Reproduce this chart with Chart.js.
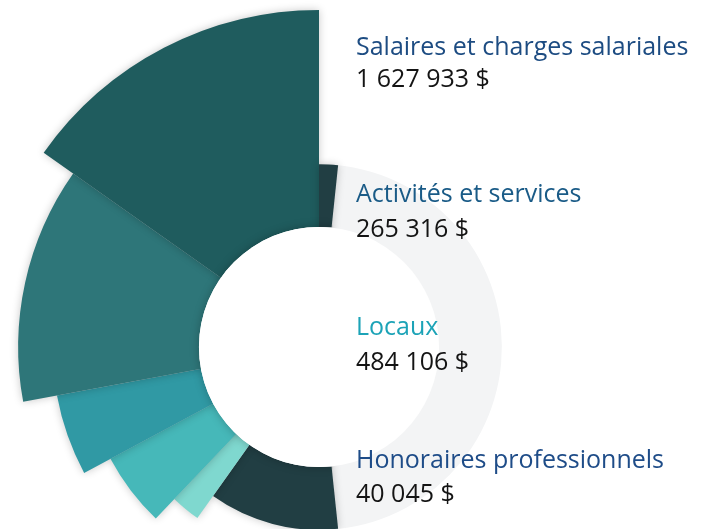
<!DOCTYPE html>
<html lang="fr">
<head>
<meta charset="utf-8">
<title>Dépenses</title>
<script src="https://cdn.jsdelivr.net/npm/chart.js@4/dist/chart.umd.min.js"></script>
<style>
  html,body{margin:0;width:712px;height:529px;overflow:hidden;background:#fff;}
  #wrap{position:absolute;left:-28px;top:0;width:694px;height:694px;}
  .lbl{position:absolute;left:356px;font-family:"Open Sans","Noto Sans",sans-serif;font-size:25px;line-height:30px;white-space:nowrap;}
  .amt{color:#141414;}
</style>
</head>
<body>
<div id="wrap"><canvas id="c"></canvas></div>
<div id="labels"></div>
<script>
/* ── Data ───────────────────────────────────────────── */
const CATEGORIES = ["Salaires et charges salariales", "Activités et services", "Locaux", "Honoraires professionnels"];
const AMOUNTS    = ["1 627 933 $", "265 316 $", "484 106 $", "40 045 $"];
const CAT_COLORS = ["#1d4c82", "#1a5b87", "#1ca3b7", "#1e4c88"];

// decorative fan, clockwise from 174°: sweep in degrees, reach in % of radius
const FAN_SWEEP  = [41.4, 8.2, 18.2, 17.7, 45.7, 54.8, 6];
const FAN_REACH  = [52.7, 60.5, 68.2, 76.8, 86.7, 97.1, 52.7];
const FAN_COLORS = ["#213e43", "#7fd8cf", "#46b8b9", "#3099a4", "#2e7679", "#1f5c5e", "#213e43"];
const RING_REACH = 52.7;
const HOLE_REACH = 34.6;

/* ── Layout (not data) ── */
const BASELINES = [[54.5, 86.5], [201.7, 236.7], [335, 370], [468, 502]];
const FS = 25, LH = 30;
const ASC = 1.069 * FS + (LH - 1.362 * FS) / 2;   // Open Sans baseline inside the line box

const box = document.getElementById("labels");
CATEGORIES.forEach((c, i) => {
  const a = document.createElement("div");
  a.className = "lbl"; a.textContent = c; a.style.color = CAT_COLORS[i];
  a.style.top = (BASELINES[i][0] - ASC) + "px";
  const b = document.createElement("div");
  b.className = "lbl amt"; b.textContent = AMOUNTS[i];
  b.style.top = (BASELINES[i][1] - ASC) + "px";
  box.appendChild(a); box.appendChild(b);
});

/* ── Plugins ── */
const fanShadow = {
  id: "fanShadow",
  beforeDatasetDraw(chart, args) {
    if (args.index !== 0) return;
    const ctx = chart.ctx;
    ctx.save();
    ctx.shadowColor = "rgba(0,0,0,.22)";
    ctx.shadowBlur = 8;
  },
  afterDatasetDraw(chart, args) {
    if (args.index !== 0) return;
    chart.ctx.restore();
  },
};

const hole = {
  id: "hole",
  afterDatasetsDraw(chart) {
    const s = chart.scales.r, ctx = chart.ctx;
    const r = s.getDistanceFromCenterForValue(HOLE_REACH);
    // soft shadow only on the coloured side
    ctx.save();
    ctx.beginPath(); ctx.rect(0, 0, s.xCenter + 14, chart.height); ctx.clip();
    ctx.shadowColor = "rgba(0,0,0,.25)"; ctx.shadowBlur = 10;
    ctx.beginPath(); ctx.arc(s.xCenter, s.yCenter, r, 0, Math.PI * 2);
    ctx.fillStyle = "#fff"; ctx.fill();
    ctx.restore();
    ctx.beginPath(); ctx.arc(s.xCenter, s.yCenter, r, 0, Math.PI * 2);
    ctx.fillStyle = "#fff"; ctx.fill();
  },
};

new Chart(document.getElementById("c"), {
  type: "polarArea",
  data: {
    datasets: [
      { data: FAN_REACH, angle: FAN_SWEEP, backgroundColor: FAN_COLORS, borderWidth: 0 },
      { data: [RING_REACH], angle: [360], backgroundColor: ["#f3f4f5"], borderWidth: 0 },
    ],
  },
  options: {
    responsive: true,
    maintainAspectRatio: false,
    animation: false,
    events: [],
    layout: { padding: 0 },
    plugins: { legend: { display: false }, tooltip: { enabled: false } },
    scales: {
      r: { display: false, min: 0, max: 100, startAngle: 174 },
    },
  },
  plugins: [fanShadow, hole],
});
</script>
</body>
</html>
